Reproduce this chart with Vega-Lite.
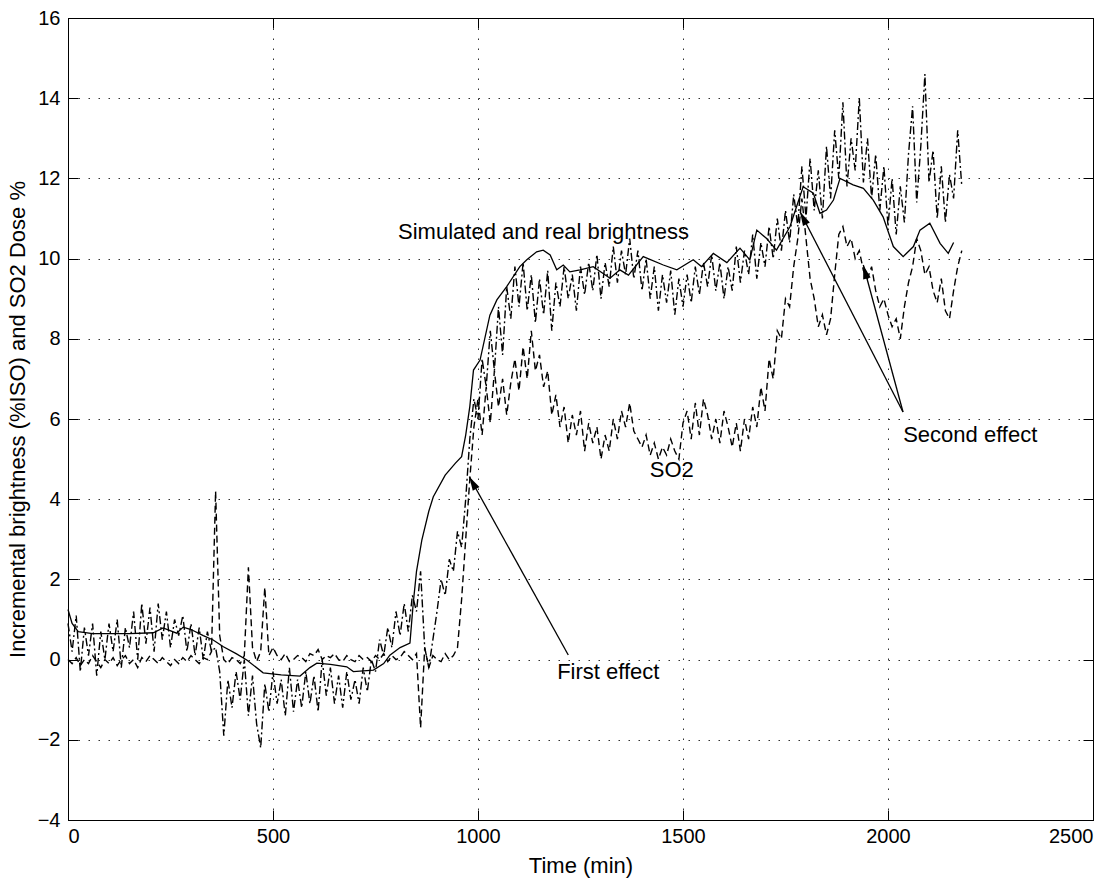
{
"$schema": "https://vega.github.io/schema/vega-lite/v6.json",
"width": 1025, "height": 802,
"autosize": {"type": "none"},
"padding": {"left": 68, "top": 18, "right": 27, "bottom": 63},
"background": "white",
"config": {
  "view": {"stroke": "black", "strokeWidth": 1},
  "font": "Liberation Sans",
  "axis": {"labelFont": "Liberation Sans", "titleFont": "Liberation Sans", "labelFontSize": 20, "titleFontSize": 22, "titleFontWeight": "normal", "labelColor": "black", "titleColor": "black", "domainColor": "black", "tickColor": "black", "gridColor": "#333", "gridDash": [1.5, 8.5], "gridWidth": 1}
},
"datasets": {
"obs": [
{"t":0,"r":0.9,"d":0.0},{"t":10,"r":0.2,"d":-0.1},{"t":20,"r":1.1,"d":0.05},{"t":30,"r":-0.3,"d":-0.15},{"t":40,"r":0.8,"d":0.0},{"t":50,"r":0.1,"d":-0.1},{"t":60,"r":0.9,"d":0.1},{"t":70,"r":-0.4,"d":-0.05},{"t":80,"r":0.7,"d":-0.2},{"t":90,"r":0.0,"d":0.0},
{"t":100,"r":0.9,"d":-0.1},{"t":110,"r":0.2,"d":0.05},{"t":120,"r":1.0,"d":-0.15},{"t":130,"r":-0.2,"d":0.0},{"t":140,"r":0.8,"d":0.1},{"t":150,"r":0.3,"d":-0.1},{"t":160,"r":1.2,"d":0.0},{"t":170,"r":0.0,"d":-0.2},{"t":180,"r":1.4,"d":0.05},{"t":190,"r":0.4,"d":-0.05},
{"t":200,"r":1.3,"d":0.1},{"t":210,"r":0.2,"d":0.0},{"t":220,"r":1.4,"d":-0.1},{"t":230,"r":0.5,"d":0.05},{"t":240,"r":1.2,"d":-0.05},{"t":250,"r":0.3,"d":-0.15},{"t":260,"r":1.0,"d":0.0},{"t":270,"r":0.6,"d":-0.1},{"t":280,"r":1.1,"d":0.05},{"t":290,"r":0.2,"d":-0.05},
{"t":300,"r":0.9,"d":0.1},{"t":310,"r":0.1,"d":0.0},{"t":320,"r":0.8,"d":-0.1},{"t":330,"r":0.0,"d":0.05},{"t":340,"r":0.7,"d":0.0},{"t":350,"r":0.2,"d":0.2},{"t":360,"r":0.3,"d":4.2},{"t":370,"r":-0.3,"d":0.6},{"t":380,"r":-1.9,"d":0.0},{"t":390,"r":-0.5,"d":-0.1},
{"t":400,"r":-1.2,"d":0.05},{"t":410,"r":-0.3,"d":0.0},{"t":420,"r":-1.0,"d":-0.1},{"t":430,"r":0.0,"d":0.1},{"t":440,"r":-1.4,"d":2.3},{"t":450,"r":-0.4,"d":0.3},{"t":460,"r":-1.6,"d":-0.05},{"t":470,"r":-2.2,"d":0.2},{"t":480,"r":-0.6,"d":1.8},{"t":490,"r":-1.3,"d":0.1},
{"t":500,"r":-0.3,"d":0.3},{"t":510,"r":-1.1,"d":0.1},{"t":520,"r":-0.5,"d":0.0},{"t":530,"r":-1.4,"d":0.15},{"t":540,"r":-0.2,"d":-0.05},{"t":550,"r":-1.3,"d":0.0},{"t":560,"r":-0.5,"d":0.1},{"t":570,"r":-1.2,"d":0.05},{"t":580,"r":-0.3,"d":-0.05},{"t":590,"r":-1.1,"d":0.15},
{"t":600,"r":-0.4,"d":0.1},{"t":610,"r":-1.3,"d":0.25},{"t":620,"r":0.0,"d":0.0},{"t":630,"r":-0.9,"d":0.1},{"t":640,"r":-0.2,"d":0.05},{"t":650,"r":-1.1,"d":0.15},{"t":660,"r":-0.4,"d":0.0},{"t":670,"r":-1.2,"d":-0.05},{"t":680,"r":-0.3,"d":0.1},{"t":690,"r":-1.0,"d":0.0},
{"t":700,"r":-0.5,"d":-0.05},{"t":710,"r":-1.1,"d":0.1},{"t":720,"r":-0.2,"d":0.0},{"t":730,"r":-0.8,"d":0.05},{"t":740,"r":0.0,"d":-0.05},{"t":750,"r":-0.3,"d":0.1},{"t":760,"r":0.5,"d":0.0},{"t":770,"r":0.1,"d":0.15},{"t":780,"r":0.8,"d":-0.05},{"t":790,"r":0.3,"d":0.1},
{"t":800,"r":1.2,"d":0.0},{"t":810,"r":0.6,"d":0.05},{"t":820,"r":1.4,"d":0.2},{"t":830,"r":0.7,"d":0.1},{"t":840,"r":1.6,"d":0.0},{"t":850,"r":1.2,"d":0.15},{"t":860,"r":2.2,"d":-1.7},{"t":870,"r":0.3,"d":0.3},{"t":880,"r":-0.2,"d":-0.2},{"t":890,"r":0.5,"d":0.1},
{"t":900,"r":1.2,"d":0.0},{"t":910,"r":2.0,"d":-0.05},{"t":920,"r":1.6,"d":0.15},{"t":930,"r":2.5,"d":0.0},{"t":940,"r":2.2,"d":0.1},{"t":950,"r":3.2,"d":0.3},{"t":960,"r":2.8,"d":1.5},{"t":970,"r":4.0,"d":3.0},{"t":980,"r":5.5,"d":4.5},{"t":990,"r":6.5,"d":5.8},
{"t":1000,"r":6.0,"d":6.5},{"t":1010,"r":7.5,"d":5.6},{"t":1020,"r":6.8,"d":6.8},{"t":1030,"r":8.2,"d":5.9},{"t":1040,"r":7.2,"d":7.2},{"t":1050,"r":8.8,"d":6.3},{"t":1060,"r":7.6,"d":7.0},{"t":1070,"r":9.3,"d":6.1},{"t":1080,"r":8.5,"d":6.9},{"t":1090,"r":9.8,"d":7.5},
{"t":1100,"r":8.8,"d":6.7},{"t":1110,"r":9.9,"d":7.8},{"t":1120,"r":8.7,"d":7.0},{"t":1130,"r":9.6,"d":8.2},{"t":1140,"r":8.4,"d":7.2},{"t":1150,"r":9.5,"d":7.6},{"t":1160,"r":8.6,"d":6.8},{"t":1170,"r":9.7,"d":7.2},{"t":1180,"r":8.2,"d":6.1},{"t":1190,"r":9.4,"d":6.6},
{"t":1200,"r":8.8,"d":5.8},{"t":1210,"r":9.8,"d":6.3},{"t":1220,"r":9.0,"d":5.4},{"t":1230,"r":9.6,"d":6.1},{"t":1240,"r":8.7,"d":5.6},{"t":1250,"r":9.8,"d":6.2},{"t":1260,"r":9.1,"d":5.2},{"t":1270,"r":9.9,"d":5.9},{"t":1280,"r":9.2,"d":5.4},{"t":1290,"r":10.1,"d":5.8},
{"t":1300,"r":9.0,"d":5.0},{"t":1310,"r":9.9,"d":5.6},{"t":1320,"r":9.3,"d":5.2},{"t":1330,"r":10.3,"d":6.0},{"t":1340,"r":9.4,"d":5.5},{"t":1350,"r":10.2,"d":6.2},{"t":1360,"r":9.6,"d":5.8},{"t":1370,"r":10.5,"d":6.4},{"t":1380,"r":9.5,"d":5.7},{"t":1390,"r":10.2,"d":5.5},
{"t":1400,"r":9.2,"d":5.3},{"t":1410,"r":10.0,"d":5.6},{"t":1420,"r":9.0,"d":5.1},{"t":1430,"r":9.8,"d":5.4},{"t":1440,"r":8.7,"d":5.0},{"t":1450,"r":9.6,"d":5.3},{"t":1460,"r":8.9,"d":5.1},{"t":1470,"r":9.7,"d":5.5},{"t":1480,"r":8.6,"d":5.2},{"t":1490,"r":9.5,"d":5.0},
{"t":1500,"r":8.8,"d":5.9},{"t":1510,"r":9.6,"d":6.2},{"t":1520,"r":8.9,"d":5.5},{"t":1530,"r":9.8,"d":6.4},{"t":1540,"r":9.1,"d":5.6},{"t":1550,"r":9.9,"d":6.5},{"t":1560,"r":9.3,"d":6.1},{"t":1570,"r":10.1,"d":5.5},{"t":1580,"r":9.2,"d":6.0},{"t":1590,"r":9.9,"d":5.4},
{"t":1600,"r":9.0,"d":6.2},{"t":1610,"r":9.8,"d":5.8},{"t":1620,"r":9.2,"d":5.3},{"t":1630,"r":10.3,"d":5.9},{"t":1640,"r":9.4,"d":5.2},{"t":1650,"r":10.2,"d":6.0},{"t":1660,"r":9.6,"d":5.5},{"t":1670,"r":10.6,"d":6.3},{"t":1680,"r":9.5,"d":5.8},{"t":1690,"r":10.4,"d":6.8},
{"t":1700,"r":9.8,"d":6.2},{"t":1710,"r":10.8,"d":7.5},{"t":1720,"r":10.0,"d":7.0},{"t":1730,"r":11.0,"d":8.2},{"t":1740,"r":10.2,"d":8.0},{"t":1750,"r":11.2,"d":9.0},{"t":1760,"r":10.4,"d":8.8},{"t":1770,"r":11.6,"d":9.8},{"t":1780,"r":10.8,"d":10.5},{"t":1790,"r":12.3,"d":11.5},
{"t":1800,"r":11.0,"d":10.5},{"t":1810,"r":12.5,"d":9.5},{"t":1820,"r":11.2,"d":9.0},{"t":1830,"r":12.2,"d":8.3},{"t":1840,"r":11.0,"d":8.6},{"t":1850,"r":12.8,"d":8.1},{"t":1860,"r":11.5,"d":8.5},{"t":1870,"r":13.2,"d":9.6},{"t":1880,"r":12.0,"d":10.6},{"t":1890,"r":13.9,"d":10.8},
{"t":1900,"r":11.8,"d":10.3},{"t":1910,"r":13.0,"d":10.5},{"t":1920,"r":12.2,"d":10.0},{"t":1930,"r":14.0,"d":10.2},{"t":1940,"r":11.9,"d":9.7},{"t":1950,"r":13.0,"d":9.5},{"t":1960,"r":11.5,"d":9.8},{"t":1970,"r":12.6,"d":9.2},{"t":1980,"r":11.2,"d":8.8},{"t":1990,"r":12.3,"d":9.0},
{"t":2000,"r":10.8,"d":8.6},{"t":2010,"r":12.0,"d":8.3},{"t":2020,"r":10.6,"d":8.5},{"t":2030,"r":11.8,"d":8.0},{"t":2040,"r":10.9,"d":8.8},{"t":2050,"r":12.6,"d":9.4},{"t":2060,"r":13.8,"d":9.8},{"t":2070,"r":11.4,"d":10.5},{"t":2080,"r":12.8,"d":10.2},{"t":2090,"r":14.6,"d":9.6},
{"t":2100,"r":11.9,"d":9.8},{"t":2110,"r":12.7,"d":9.2},{"t":2120,"r":11.0,"d":8.9},{"t":2130,"r":12.3,"d":9.5},{"t":2140,"r":10.9,"d":8.7},{"t":2150,"r":12.1,"d":8.5},{"t":2160,"r":11.5,"d":9.2},{"t":2170,"r":13.2,"d":9.8},{"t":2180,"r":11.8,"d":10.2}
],
"sim": [
{"t":0,"v":1.25},{"t":10,"v":0.9},{"t":25,"v":0.7},{"t":60,"v":0.65},{"t":100,"v":0.65},{"t":150,"v":0.65},{"t":208,"v":0.67},{"t":232,"v":0.79},{"t":265,"v":0.66},{"t":281,"v":0.81},{"t":300,"v":0.75},{"t":330,"v":0.6},{"t":354,"v":0.49},{"t":379,"v":0.32},{"t":410,"v":0.15},{"t":436,"v":-0.01},{"t":476,"v":-0.33},{"t":520,"v":-0.38},{"t":566,"v":-0.41},{"t":590,"v":-0.2},{"t":607,"v":-0.09},{"t":640,"v":-0.12},{"t":680,"v":-0.18},{"t":696,"v":-0.3},{"t":745,"v":-0.26},{"t":770,"v":-0.1},{"t":785,"v":0.11},{"t":810,"v":0.3},{"t":834,"v":0.41},{"t":842,"v":1.4},{"t":850,"v":2.2},{"t":863,"v":2.98},{"t":880,"v":3.7},{"t":891,"v":4.06},{"t":920,"v":4.6},{"t":945,"v":4.9},{"t":960,"v":5.06},{"t":970,"v":5.6},{"t":980,"v":6.31},{"t":989,"v":7.22},{"t":1005,"v":7.47},{"t":1029,"v":8.59},{"t":1046,"v":8.97},{"t":1070,"v":9.3},{"t":1102,"v":9.8},{"t":1119,"v":9.97},{"t":1143,"v":10.17},{"t":1159,"v":10.21},{"t":1176,"v":10.09},{"t":1192,"v":9.72},{"t":1208,"v":9.84},{"t":1224,"v":9.67},{"t":1249,"v":9.72},{"t":1281,"v":9.8},{"t":1322,"v":9.51},{"t":1346,"v":9.72},{"t":1367,"v":9.59},{"t":1403,"v":10.05},{"t":1452,"v":9.84},{"t":1485,"v":9.72},{"t":1525,"v":9.97},{"t":1545,"v":9.8},{"t":1574,"v":10.13},{"t":1607,"v":9.9},{"t":1639,"v":10.26},{"t":1663,"v":9.97},{"t":1680,"v":10.71},{"t":1704,"v":10.5},{"t":1728,"v":10.21},{"t":1761,"v":10.8},{"t":1793,"v":11.79},{"t":1818,"v":11.63},{"t":1834,"v":11.13},{"t":1850,"v":11.21},{"t":1867,"v":11.46},{"t":1883,"v":12.0},{"t":1915,"v":11.84},{"t":1940,"v":11.75},{"t":1964,"v":11.46},{"t":1988,"v":11.04},{"t":2013,"v":10.3},{"t":2037,"v":10.05},{"t":2062,"v":10.3},{"t":2078,"v":10.71},{"t":2102,"v":10.88},{"t":2127,"v":10.38},{"t":2147,"v":10.13},{"t":2160,"v":10.4}
],
"ann": [
{"t":805,"v":10.66,"label":"Simulated and real brightness"},
{"t":1419,"v":4.74,"label":"SO2"},
{"t":1193,"v":-0.3,"label":"First effect"},
{"t":2037,"v":5.6,"label":"Second effect"}
],
"arrows": [
{"t":1220.2,"v":0.115,"t2":978.8,"v2":4.56},
{"t":2036.6,"v":6.175,"t2":1785.4,"v2":11.17},
{"t":2036.6,"v":6.175,"t2":1939.8,"v2":9.84}
],
"heads": [
{"t":987.1,"v":4.41,"a":331},
{"t":1793.2,"v":11.01,"a":332.8},
{"t":1944.1,"v":9.67,"a":344.9}
]
},
"resolve": {"axis": {"x": "independent", "y": "independent"}},
"layer": [
{
  "data": {"name": "obs"},
  "transform": [{"fold": ["r", "d"], "as": ["series", "v"]}],
  "mark": {"type": "line", "color": "black", "strokeWidth": 1.4},
  "encoding": {
    "x": {"field": "t", "type": "quantitative", "scale": {"domain": [0, 2500], "nice": false, "zero": false},
      "axis": {"title": "Time (min)", "format": "d", "values": [0, 500, 1000, 1500, 2000, 2500], "grid": true, "tickSize": -10, "labelPadding": 16, "titlePadding": 9, "domain": true}},
    "y": {"field": "v", "type": "quantitative", "scale": {"domain": [-4, 16], "nice": false, "zero": false},
      "axis": {"title": "Incremental brightness (%ISO) and SO2 Dose %", "format": "d", "values": [-4, -2, 0, 2, 4, 6, 8, 10, 12, 14, 16], "grid": true, "tickSize": -10, "labelPadding": 18, "titlePadding": 8, "domain": true}},
    "detail": {"field": "series"},
    "strokeDash": {"field": "series", "type": "nominal", "scale": {"domain": ["r", "d"], "range": [[8, 3, 2, 3], [7, 4]]}, "legend": null}
  }
},
{
  "data": {"name": "sim"},
  "mark": {"type": "line", "color": "black", "strokeWidth": 1.3},
  "encoding": {
    "x": {"field": "t", "type": "quantitative", "scale": {"domain": [0, 2500], "nice": false, "zero": false},
      "axis": {"orient": "top", "title": null, "labels": false, "values": [0, 500, 1000, 1500, 2000, 2500], "grid": false, "tickSize": -10}},
    "y": {"field": "v", "type": "quantitative", "scale": {"domain": [-4, 16], "nice": false, "zero": false},
      "axis": {"orient": "right", "title": null, "labels": false, "values": [-4, -2, 0, 2, 4, 6, 8, 10, 12, 14, 16], "grid": false, "tickSize": -10}}
  }
},
{
  "data": {"name": "arrows"},
  "mark": {"type": "rule", "color": "black", "strokeWidth": 1.3},
  "encoding": {
    "x": {"field": "t", "type": "quantitative", "axis": null},
    "y": {"field": "v", "type": "quantitative", "axis": null},
    "x2": {"field": "t2"},
    "y2": {"field": "v2"}
  }
},
{
  "data": {"name": "heads"},
  "mark": {"type": "point", "shape": "M0,-1L0.55,1L-0.55,1Z", "filled": true, "color": "black", "opacity": 1, "size": 196},
  "encoding": {
    "x": {"field": "t", "type": "quantitative", "axis": null},
    "y": {"field": "v", "type": "quantitative", "axis": null},
    "angle": {"field": "a", "type": "quantitative", "scale": null}
  }
},
{
  "data": {"name": "ann"},
  "mark": {"type": "text", "align": "left", "baseline": "middle", "font": "Liberation Sans", "fontSize": 22, "color": "black"},
  "encoding": {
    "x": {"field": "t", "type": "quantitative", "axis": null},
    "y": {"field": "v", "type": "quantitative", "axis": null},
    "text": {"field": "label"}
  }
}
]
}
